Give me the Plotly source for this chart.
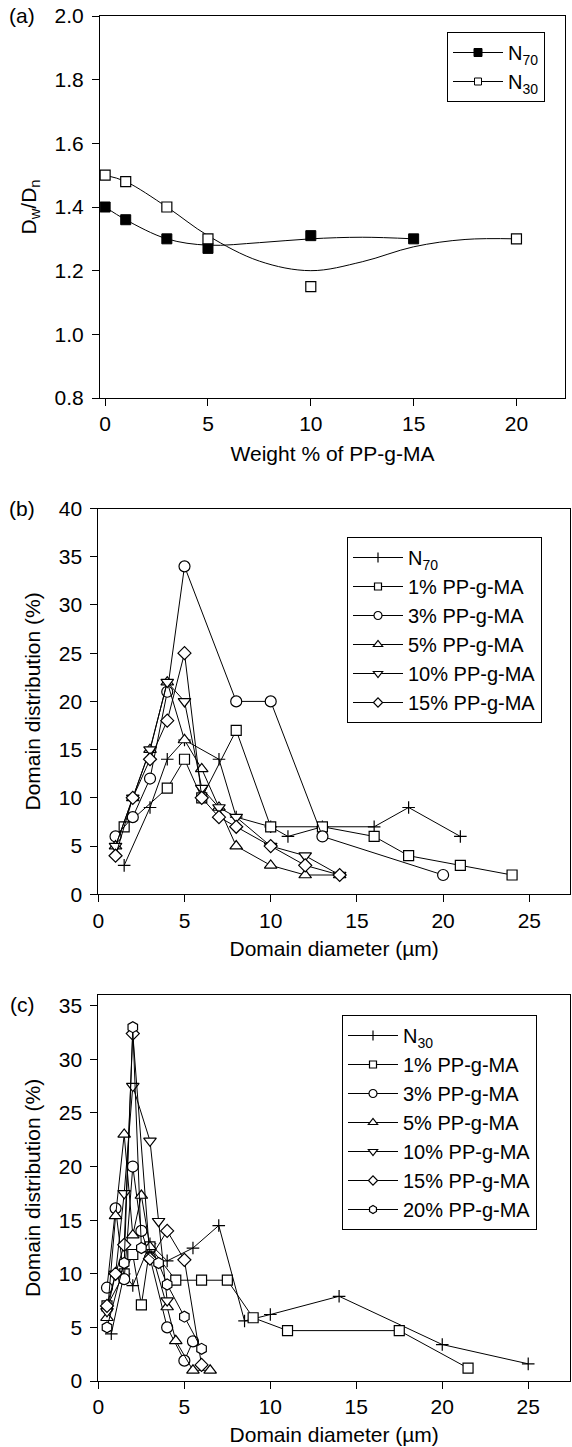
import plotly.graph_objects as go

W, H = 572, 1447
FONT = "Liberation Sans, Arial, Helvetica, sans-serif"
FS = 21
LFS = 20

# ---------------- panel (a) data ----------------
wt_n70 = [0, 1, 3, 5, 10, 15]
dd_n70 = [1.40, 1.36, 1.30, 1.27, 1.31, 1.30]
wt_n30 = [0, 1, 3, 5, 10, 20]
dd_n30 = [1.50, 1.48, 1.40, 1.30, 1.15, 1.30]
# smooth fitted curves
fit_n70_x = [0, 1, 3, 5, 7.5, 10, 12.5, 15]
fit_n70_y = [1.40, 1.36, 1.30, 1.28, 1.288, 1.30, 1.305, 1.30]
fit_n30_x = [0, 1, 3, 5, 7.5, 10, 12.5, 15, 17.5, 20]
fit_n30_y = [1.50, 1.48, 1.40, 1.31, 1.23, 1.20, 1.228, 1.275, 1.298, 1.30]

# ---------------- panel (b) data ----------------
b_n70_x = [1.5, 3, 4, 5, 7, 8, 10, 11, 13, 16, 18, 21]
b_n70_y = [3, 9, 14, 16, 14, 8, 7, 6, 7, 7, 9, 6]
b_1_x = [1.5, 4, 5, 6, 8, 10, 13, 16, 18, 21, 24]
b_1_y = [7, 11, 14, 10, 17, 7, 7, 6, 4, 3, 2]
b_3_x = [1, 2, 3, 4, 5, 8, 10, 13, 20]
b_3_y = [6, 8, 12, 21, 34, 20, 20, 6, 2]
b_5_x = [1, 2, 3, 4, 5, 6, 7, 8, 10, 12, 14]
b_5_y = [5, 10, 15, 22, 16, 13, 9, 5, 3, 2, 2]
b_10_x = [1, 2, 3, 4, 5, 6, 7, 8, 10, 12, 14]
b_10_y = [5, 10, 15, 22, 20, 11, 9, 8, 5, 4, 2]
b_15_x = [1, 2, 3, 4, 5, 6, 7, 8, 10, 12, 14]
b_15_y = [4, 10, 14, 18, 25, 10, 8, 7, 5, 3, 2]

# ---------------- panel (c) data ----------------
c_n30_x = [0.75, 1.5, 2, 3, 4, 5.5, 7, 8.5, 10, 14, 20, 25]
c_n30_y = [4.4, 10, 8.9, 12.8, 11.2, 12.4, 14.5, 5.6, 6.2, 7.9, 3.4, 1.6]
c_1_x = [0.5, 1.5, 2, 2.5, 3, 4.5, 6, 7.5, 9, 11, 17.5, 21.5]
c_1_y = [7, 10, 11.8, 7.1, 12.5, 9.4, 9.4, 9.4, 5.9, 4.7, 4.7, 1.2]
c_3_x = [0.5, 1, 1.5, 2, 2.5, 3, 4, 5, 5.5]
c_3_y = [8.7, 16.1, 9.5, 20, 14, 11.5, 5, 1.9, 3.7]
c_5_x = [0.5, 1, 1.5, 2, 2.5, 3, 4, 4.5, 5.5, 6.5]
c_5_y = [5.9, 15.4, 23, 13.6, 17.3, 12.5, 6.9, 3.75, 1, 1]
c_10_x = [0.5, 1, 1.5, 2, 3, 3.5, 4]
c_10_y = [6.5, 10, 17.5, 27.5, 22.4, 14.9, 7.5]
c_15_x = [0.5, 1, 1.5, 2, 3, 4, 5, 6]
c_15_y = [7, 10, 12.7, 32.4, 11.4, 14, 11.3, 1.5]
c_20_x = [0.5, 1.5, 2, 2.5, 3.5, 4, 5, 6]
c_20_y = [5, 11, 33, 12.4, 11, 9, 6, 3]

labels_b = ["N<sub>70</sub>", "1% PP-g-MA", "3% PP-g-MA", "5% PP-g-MA",
            "10% PP-g-MA", "15% PP-g-MA"]
labels_c = ["N<sub>30</sub>", "1% PP-g-MA", "3% PP-g-MA", "5% PP-g-MA",
            "10% PP-g-MA", "15% PP-g-MA", "20% PP-g-MA"]

fig = go.Figure()

LINE = dict(color="black", width=1)


def mk(symbol, size):
    if symbol == "cross-thin":
        return dict(symbol=symbol, size=size, color="black",
                    line=dict(color="black", width=1.2))
    return dict(symbol=symbol, size=size, color="white",
                line=dict(color="black", width=1.2))


SYM = {
    "cross": ("cross-thin", 9, 7),
    "square": ("square", 10, 7),
    "circle": ("circle", 11, 8),
    "tu": ("triangle-up", 11, 8),
    "td": ("triangle-down", 11, 8),
    "diamond": ("diamond", 10, 7),
    "hex": ("hexagon", 11, 8),
}


def add_series(x, y, key, xa, ya, name, legend):
    sym, size, lsize = SYM[key]
    fig.add_trace(go.Scatter(x=x, y=y, mode="lines+markers", line=LINE,
                             marker=mk(sym, size), xaxis=xa, yaxis=ya,
                             showlegend=False, hoverinfo="x+y"))
    fig.add_trace(go.Scatter(x=[None], y=[None], mode="lines+markers", line=LINE,
                             marker=mk(sym, lsize), xaxis=xa, yaxis=ya,
                             name=name, legend=legend, showlegend=True))


# panel (a)
fig.add_trace(go.Scatter(x=fit_n70_x, y=fit_n70_y, mode="lines",
                         line=dict(color="black", width=1, shape="spline", smoothing=1),
                         showlegend=False, xaxis="x", yaxis="y"))
fig.add_trace(go.Scatter(x=fit_n30_x, y=fit_n30_y, mode="lines",
                         line=dict(color="black", width=1, shape="spline", smoothing=1),
                         showlegend=False, xaxis="x", yaxis="y"))
fig.add_trace(go.Scatter(x=wt_n70, y=dd_n70, mode="markers",
                         marker=dict(symbol="square", size=10, color="black",
                                     line=dict(color="black", width=1)),
                         showlegend=False, xaxis="x", yaxis="y"))
fig.add_trace(go.Scatter(x=wt_n30, y=dd_n30, mode="markers",
                         marker=dict(symbol="square", size=10, color="white",
                                     line=dict(color="black", width=1.2)),
                         showlegend=False, xaxis="x", yaxis="y"))
fig.add_trace(go.Scatter(x=[None], y=[None], mode="lines+markers", line=LINE,
                         marker=dict(symbol="square", size=8, color="black",
                                     line=dict(color="black", width=1)),
                         name="N<sub>70</sub>", legend="legend", xaxis="x", yaxis="y"))
fig.add_trace(go.Scatter(x=[None], y=[None], mode="lines+markers", line=LINE,
                         marker=dict(symbol="square", size=7, color="white",
                                     line=dict(color="black", width=1)),
                         name="N<sub>30</sub>", legend="legend", xaxis="x", yaxis="y"))

# panel (b)
b_series = [(b_n70_x, b_n70_y, "cross"), (b_1_x, b_1_y, "square"),
            (b_3_x, b_3_y, "circle"), (b_5_x, b_5_y, "tu"),
            (b_10_x, b_10_y, "td"), (b_15_x, b_15_y, "diamond")]
for (x, y, k), nm in zip(b_series, labels_b):
    add_series(x, y, k, "x2", "y2", nm, "legend2")

# panel (c)
c_series = [(c_n30_x, c_n30_y, "cross"), (c_1_x, c_1_y, "square"),
            (c_3_x, c_3_y, "circle"), (c_5_x, c_5_y, "tu"),
            (c_10_x, c_10_y, "td"), (c_15_x, c_15_y, "diamond"),
            (c_20_x, c_20_y, "hex")]
for (x, y, k), nm in zip(c_series, labels_c):
    add_series(x, y, k, "x3", "y3", nm, "legend3")


def px_x(p):
    return p / W


def px_y(p):
    return 1 - p / H


AX = dict(showline=True, linecolor="black", linewidth=1, mirror=True,
          ticks="outside", ticklen=7, tickwidth=1, tickcolor="black",
          showgrid=False, zeroline=False, automargin=False,
          tickfont=dict(family=FONT, size=FS, color="black"),
          title_font=dict(family=FONT, size=FS, color="black"))
YX = dict(ticklabelstandoff=4)

LEG = dict(xanchor="left", yanchor="top", bordercolor="black", borderwidth=1,
           bgcolor="white", font=dict(family=FONT, size=LFS, color="black"),
           tracegroupgap=0, itemwidth=50)

fig.update_layout(
    width=W, height=H, margin=dict(l=0, r=0, t=0, b=0),
    paper_bgcolor="white", plot_bgcolor="white",
    font=dict(family=FONT, size=FS, color="black"),
    xaxis=dict(AX, domain=[px_x(100), px_x(565)], range=[-0.25, 22.36],
               tickvals=[0, 5, 10, 15, 20], anchor="y",
               title=dict(text="Weight % of PP-g-MA", standoff=12)),
    yaxis=dict(AX, **YX, domain=[px_y(398), px_y(16)], range=[0.8, 2.0],
               tickvals=[0.8, 1.0, 1.2, 1.4, 1.6, 1.8, 2.0], tickformat=".1f",
               anchor="x", title=dict(text="D<sub>w</sub>/D<sub>n</sub>", standoff=12)),
    xaxis2=dict(AX, domain=[px_x(98.3), px_x(570)], range=[0, 27.36],
                tickvals=[0, 5, 10, 15, 20, 25], anchor="y2",
                title=dict(text="Domain diameter (µm)", standoff=10)),
    yaxis2=dict(AX, **YX, domain=[px_y(894.3), px_y(508.5)], range=[0, 40],
                tickvals=list(range(0, 41, 5)), anchor="x2",
                title=dict(text="Domain distribution (%)", standoff=12)),
    xaxis3=dict(AX, domain=[px_x(98.4), px_x(570)], range=[0, 27.43],
                tickvals=[0, 5, 10, 15, 20, 25], anchor="y3",
                title=dict(text="Domain diameter (µm)", standoff=10)),
    yaxis3=dict(AX, **YX, domain=[px_y(1381), px_y(995)], range=[0, 36],
                tickvals=list(range(0, 36, 5)), anchor="x3",
                title=dict(text="Domain distribution (%)", standoff=12)),
    legend=dict(LEG, x=px_x(447), y=px_y(32)),
    legend2=dict(LEG, x=px_x(347), y=px_y(537)),
    legend3=dict(LEG, x=px_x(342), y=px_y(1015)),
)

for txt, yc in [("(a)", 16), ("(b)", 508), ("(c)", 1004)]:
    fig.add_annotation(text=txt, xref="paper", yref="paper", x=px_x(22), y=px_y(yc),
                       xanchor="center", yanchor="middle", showarrow=False,
                       font=dict(family=FONT, size=FS, color="black"))

fig.write_html("out.html")
